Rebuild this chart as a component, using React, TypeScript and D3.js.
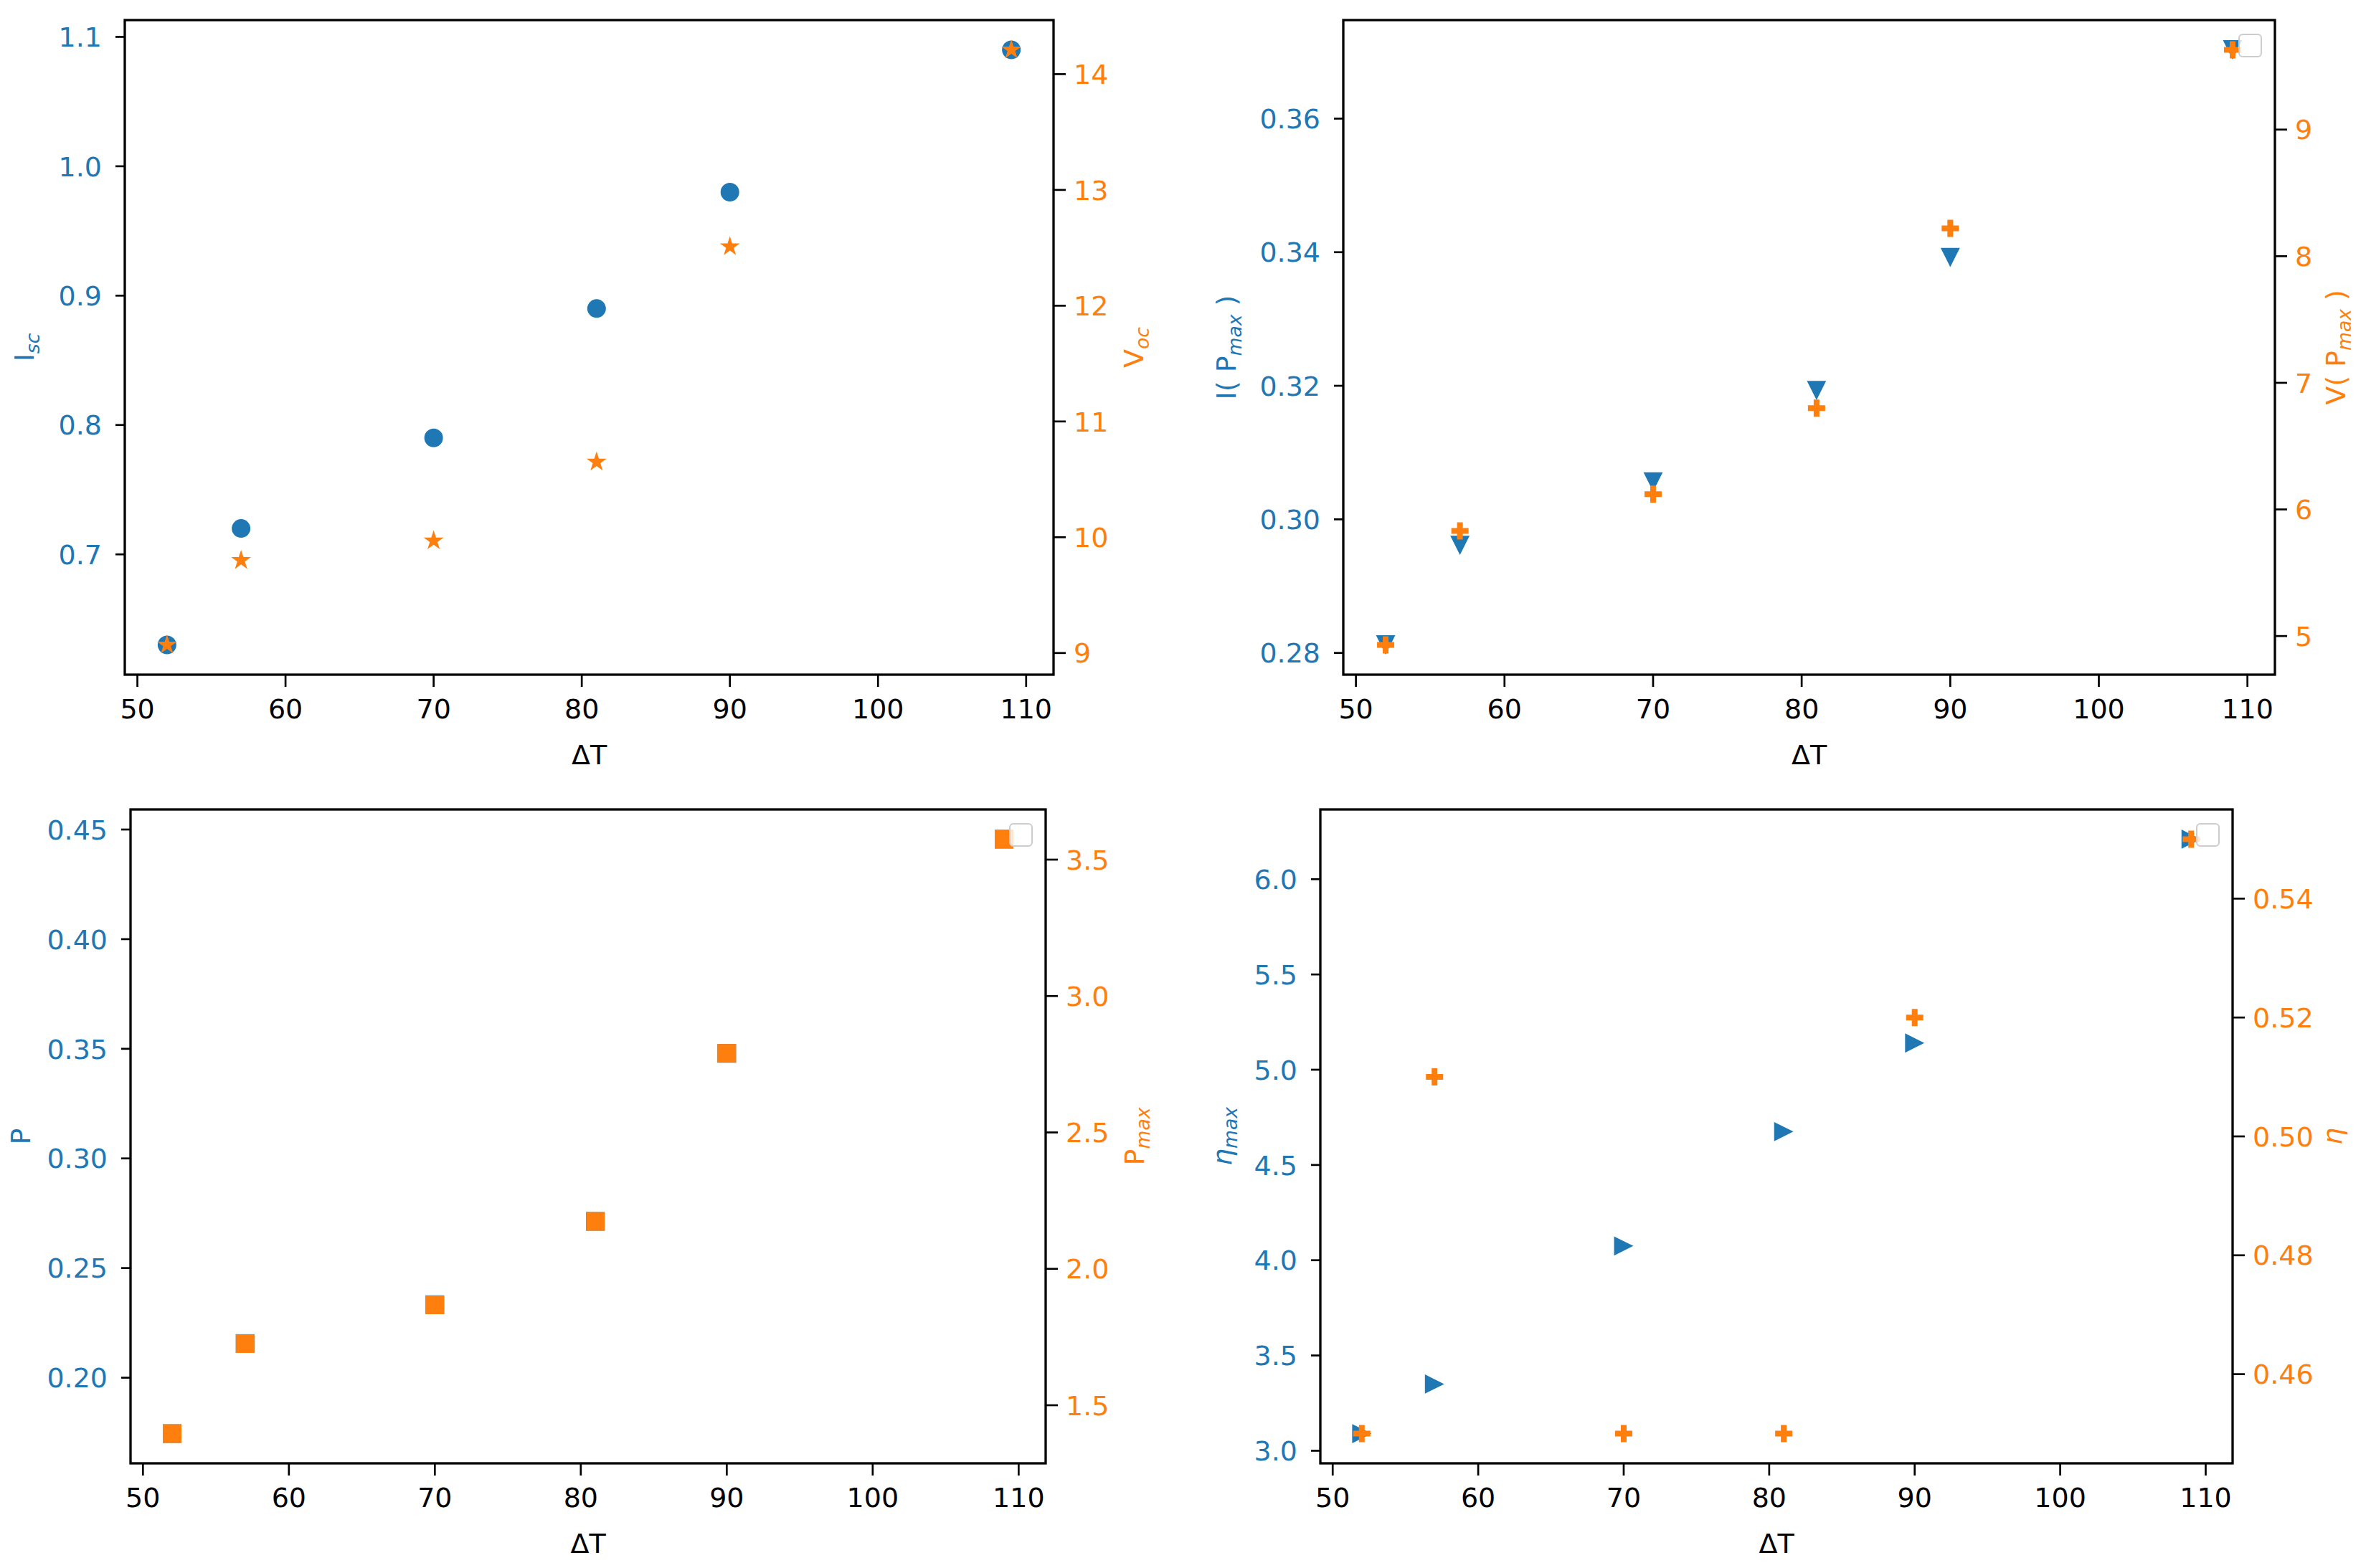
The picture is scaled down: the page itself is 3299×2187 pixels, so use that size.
import * as d3 from "d3";
import React from "react";

// данные
const deltaT = [52, 57, 70, 81, 90, 109];

const isc = [0.63, 0.72, 0.79, 0.89, 0.98, 1.09];
const voc = [9.07, 9.8, 9.97, 10.65, 12.51, 14.21];

const iPmax = [0.2812, 0.2961, 0.3056, 0.3193, 0.3392, 0.3703];
const vPmax = [4.93, 5.83, 6.12, 6.8, 8.22, 9.63];

const power = [0.1745, 0.2156, 0.2333, 0.2713, 0.3479, 0.4456];
const pMax = [1.396, 1.726, 1.868, 2.174, 2.79, 3.575];

const etaMax = [3.09, 3.35, 4.075, 4.675, 5.14, 6.21];
const eta = [0.45, 0.51, 0.45, 0.45, 0.52, 0.55];

// подписи делений
const xTicks = [50, 60, 70, 80, 90, 100, 110];
const iscTicks = [0.7, 0.8, 0.9, 1.0, 1.1];
const vocTicks = [9, 10, 11, 12, 13, 14];
const iPmaxTicks = [0.28, 0.3, 0.32, 0.34, 0.36];
const vPmaxTicks = [5, 6, 7, 8, 9];
const powerTicks = [0.2, 0.25, 0.3, 0.35, 0.4, 0.45];
const pMaxTicks = [1.5, 2.0, 2.5, 3.0, 3.5];
const etaMaxTicks = [3.0, 3.5, 4.0, 4.5, 5.0, 5.5, 6.0];
const etaTicks = [0.46, 0.48, 0.5, 0.52, 0.54];

const BLUE = "#1f77b4";
const ORANGE = "#ff7f0e";
const FONT = "DejaVu Sans";
const FS = 38;

// треугольник как в matplotlib (центр по рамке)
const triMpl = {
  draw(ctx, size) {
    const r = Math.sqrt(size) / 2;
    ctx.moveTo(0, -r);
    ctx.lineTo(r, r);
    ctx.lineTo(-r, r);
    ctx.closePath();
  },
};

const markers = {
  circle: { path: d3.symbol(d3.symbolCircle, Math.PI * 13 * 13)(), rot: 0 },
  star: { path: d3.symbol(d3.symbolStar, 240)(), rot: 0 },
  triDown: { path: d3.symbol(triMpl, 720)(), rot: 180 },
  triRight: { path: d3.symbol(triMpl, 720)(), rot: 90 },
  square: { path: d3.symbol(d3.symbolSquare, 26 * 26)(), rot: 0 },
  plus: { path: d3.symbol(d3.symbolCross, 320)(), rot: 0 },
};

// домен с полями 5% как в matplotlib
const pad = (vals) => {
  const [a, b] = d3.extent(vals);
  const m = (b - a) * 0.05;
  return [a - m, b + m];
};

const Label = ({ parts, x, y, color }) => (
  <text
    transform={`translate(${x},${y}) rotate(-90)`}
    textAnchor="middle"
    fill={color}
    fontFamily={FONT}
    fontSize={FS}
  >
    {parts.map((p, i) => (
      <tspan
        key={i}
        fontStyle={p.it ? "italic" : "normal"}
        fontSize={p.sub ? FS * 0.7 : FS}
        dy={p.sub ? "0.3em" : i > 0 && parts[i - 1].sub ? "-0.21em" : 0}
      >
        {p.t}
      </tspan>
    ))}
  </text>
);

const Panel = ({ box, yL, yR, ticksL, ticksR, fmtL, fmtR, mL, mR, labelL, labelR, offL, offR, legend }) => {
  const { left, right, top, bottom } = box;
  const x = d3.scaleLinear().domain(pad(deltaT)).range([left, right]);
  const sL = d3.scaleLinear().domain(pad(yL)).range([bottom, top]);
  const sR = d3.scaleLinear().domain(pad(yR)).range([bottom, top]);
  const fL = d3.format(fmtL);
  const fR = d3.format(fmtR);
  const midY = (top + bottom) / 2;

  return (
    <g>
      {/* точки левой оси */}
      {deltaT.map((d, i) => (
        <path
          key={"l" + i}
          d={mL.path}
          fill={BLUE}
          transform={`translate(${x(d)},${sL(yL[i])}) rotate(${mL.rot})`}
        />
      ))}
      {/* точки правой оси */}
      {deltaT.map((d, i) => (
        <path
          key={"r" + i}
          d={mR.path}
          fill={ORANGE}
          transform={`translate(${x(d)},${sR(yR[i])}) rotate(${mR.rot})`}
        />
      ))}

      {legend && (
        <rect
          x={right - 50}
          y={top + 20}
          width={31}
          height={31}
          rx={5}
          fill="white"
          fillOpacity={0.8}
          stroke="#cccccc"
          strokeWidth={2}
        />
      )}

      {/* рамка */}
      <rect x={left} y={top} width={right - left} height={bottom - top} fill="none" stroke="#000" strokeWidth={3.3} />

      {/* ось X */}
      {xTicks.map((t) => (
        <g key={"x" + t}>
          <line x1={x(t)} x2={x(t)} y1={bottom} y2={bottom + 17} stroke="#000" strokeWidth={2.7} />
          <text x={x(t)} y={bottom + 61} textAnchor="middle" fontFamily={FONT} fontSize={FS} fill="#000">
            {t}
          </text>
        </g>
      ))}
      <text x={(left + right) / 2} y={bottom + 125} textAnchor="middle" fontFamily={FONT} fontSize={FS} fill="#000">
        ΔT
      </text>

      {/* левая ось */}
      {ticksL.map((t) => (
        <g key={"yl" + t}>
          <line x1={left - 13} x2={left} y1={sL(t)} y2={sL(t)} stroke="#000" strokeWidth={2.7} />
          <text x={left - 32} y={sL(t)} dy="0.36em" textAnchor="end" fontFamily={FONT} fontSize={FS} fill={BLUE}>
            {fL(t)}
          </text>
        </g>
      ))}
      <Label parts={labelL} x={left - offL} y={midY} color={BLUE} />

      {/* правая ось */}
      {ticksR.map((t) => (
        <g key={"yr" + t}>
          <line x1={right} x2={right + 17} y1={sR(t)} y2={sR(t)} stroke="#000" strokeWidth={2.7} />
          <text x={right + 28} y={sR(t)} dy="0.36em" textAnchor="start" fontFamily={FONT} fontSize={FS} fill={ORANGE}>
            {fR(t)}
          </text>
        </g>
      ))}
      <Label parts={labelR} x={right + offR} y={midY} color={ORANGE} />
    </g>
  );
};

const App = () => {
  return (
    <svg
      width={3299}
      height={2187}
      style={{ position: "absolute", left: 0, top: 0, display: "block", background: "#fff" }}
    >
      <rect width={3299} height={2187} fill="#fff" />
      <Panel
        box={{ left: 174, right: 1469, top: 28, bottom: 941 }}
        yL={isc}
        yR={voc}
        ticksL={iscTicks}
        ticksR={vocTicks}
        fmtL=".1f"
        fmtR="d"
        mL={markers.circle}
        mR={markers.star}
        labelL={[{ t: "I" }, { t: "sc", sub: true, it: true }]}
        labelR={[{ t: "V" }, { t: "oc", sub: true, it: true }]}
        offL={127}
        offR={125}
        legend={false}
      />
      <Panel
        box={{ left: 1873, right: 3172, top: 28, bottom: 941 }}
        yL={iPmax}
        yR={vPmax}
        ticksL={iPmaxTicks}
        ticksR={vPmaxTicks}
        fmtL=".2f"
        fmtR="d"
        mL={markers.triDown}
        mR={markers.plus}
        labelL={[{ t: "I( P" }, { t: "max", sub: true, it: true }, { t: " )" }]}
        labelR={[{ t: "V( P" }, { t: "max", sub: true, it: true }, { t: " )" }]}
        offL={150}
        offR={98}
        legend={true}
      />
      <Panel
        box={{ left: 182, right: 1458, top: 1129, bottom: 2041 }}
        yL={power}
        yR={pMax}
        ticksL={powerTicks}
        ticksR={pMaxTicks}
        fmtL=".2f"
        fmtR=".1f"
        mL={markers.square}
        mR={markers.square}
        labelL={[{ t: "P" }]}
        labelR={[{ t: "P" }, { t: "max", sub: true, it: true }]}
        offL={140}
        offR={137}
        legend={true}
      />
      <Panel
        box={{ left: 1841, right: 3113, top: 1129, bottom: 2041 }}
        yL={etaMax}
        yR={eta}
        ticksL={etaMaxTicks}
        ticksR={etaTicks}
        fmtL=".1f"
        fmtR=".2f"
        mL={markers.triRight}
        mR={markers.plus}
        labelL={[{ t: "η", it: true }, { t: "max", sub: true, it: true }]}
        labelR={[{ t: "η", it: true }]}
        offL={124}
        offR={152}
        legend={true}
      />
    </svg>
  );
};

export default App;
